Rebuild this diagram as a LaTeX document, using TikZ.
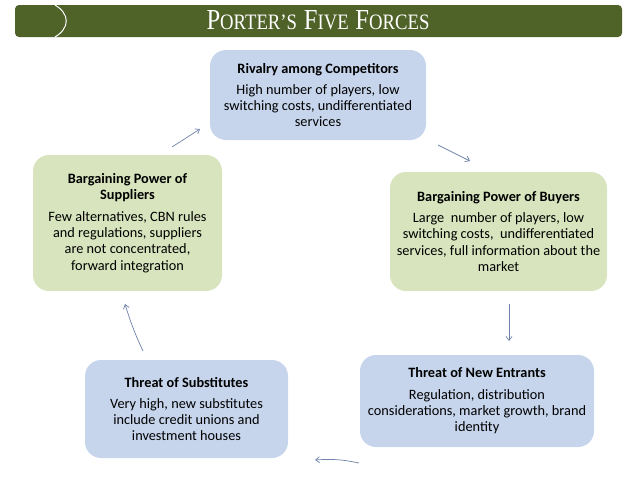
\documentclass[tikz,border=0pt]{standalone}
\usepackage{fontspec}
\newfontfamily\calibri{Carlito}
\newfontfamily\titleserif{Liberation Serif}
\usetikzlibrary{arrows.meta}
\definecolor{bluebox}{HTML}{C6D5EC}
\definecolor{greenbox}{HTML}{D8E4BD}
\definecolor{barcol}{HTML}{4F6228}
\definecolor{arrcol}{HTML}{6E82AA}
\newcommand{\bigc}[1]{{\fontsize{29}{29}\selectfont #1}}
\newcommand{\smc}[1]{{\fontsize{22}{22}\selectfont #1}}
\begin{document}
\begin{tikzpicture}[x=1pt,y=-1pt,
  fbox/.style={rounded corners=16pt, inner sep=0pt, align=center,
     font=\calibri\fontsize{14.3}{16.3}\selectfont, text=black},
  bluefill/.style={fbox, fill=bluebox},
  greenfill/.style={fbox, fill=greenbox},
  flow/.style={draw=arrcol, line width=0.7pt, -{Straight Barb[length=4pt,width=6pt]}}]
\useasboundingbox (0,0) rectangle (638,479);
% title bar
\fill[barcol, rounded corners=4pt] (15,5) rectangle (622,37);
\draw[white, line width=1pt] (55,5) .. controls (70,14) and (70,28) .. (55,37);
\node[text=white, inner sep=0pt, anchor=base] (title) at (318,30)
  {\titleserif\scalebox{0.85}[1]{\bigc{P}\smc{ORTER’S}\hspace{8pt}\bigc{F}\smc{IVE}\hspace{8pt}\bigc{F}\smc{ORCES}}};
% boxes
\node[bluefill, minimum width=216, minimum height=90] (riv) at (318,95)
  {\textbf{Rivalry among Competitors}\\[5pt]High number of players, low\\switching costs, undifferentiated\\services};
\node[greenfill, minimum width=189, minimum height=136] (sup) at (127.5,223)
  {\textbf{Bargaining Power of}\\\textbf{Suppliers}\\[5pt]Few alternatives, CBN rules\\and regulations, suppliers\\are not concentrated,\\forward integration};
\node[greenfill, minimum width=217, minimum height=119] (buy) at (498.5,231.5)
  {\textbf{Bargaining Power of Buyers}\\[5pt]Large\ \ number of players, low\\switching costs,\ \ undifferentiated\\services, full information about the\\market};
\node[bluefill, minimum width=234, minimum height=92] (ent) at (477,401)
  {\textbf{Threat of New Entrants}\\[5pt]Regulation, distribution\\considerations, market growth, brand\\identity};
\node[bluefill, minimum width=203, minimum height=98] (subs) at (186.5,409)
  {\textbf{Threat of Substitutes}\\[5pt]Very high, new substitutes\\include credit unions and\\investment houses};
% arrows
\coordinate (a1s) at (172,147); \coordinate (a1e) at (200,129);
\coordinate (a2s) at (438,145); \coordinate (a2e) at (470,161);
\coordinate (a3s) at (509,304); \coordinate (a3e) at (509,341);
\coordinate (a4s) at (359,463); \coordinate (a4e) at (315,460);
\coordinate (a5s) at (143,351); \coordinate (a5e) at (125,304);
\draw[flow] (a1s) -- (a1e);
\draw[flow] (a2s) -- (a2e);
\draw[flow] (a3s) -- (a3e);
\draw[flow] (a4s) to[bend right=8] (a4e);
\draw[flow] (a5s) to[bend left=4] (a5e);
\end{tikzpicture}
\end{document}
